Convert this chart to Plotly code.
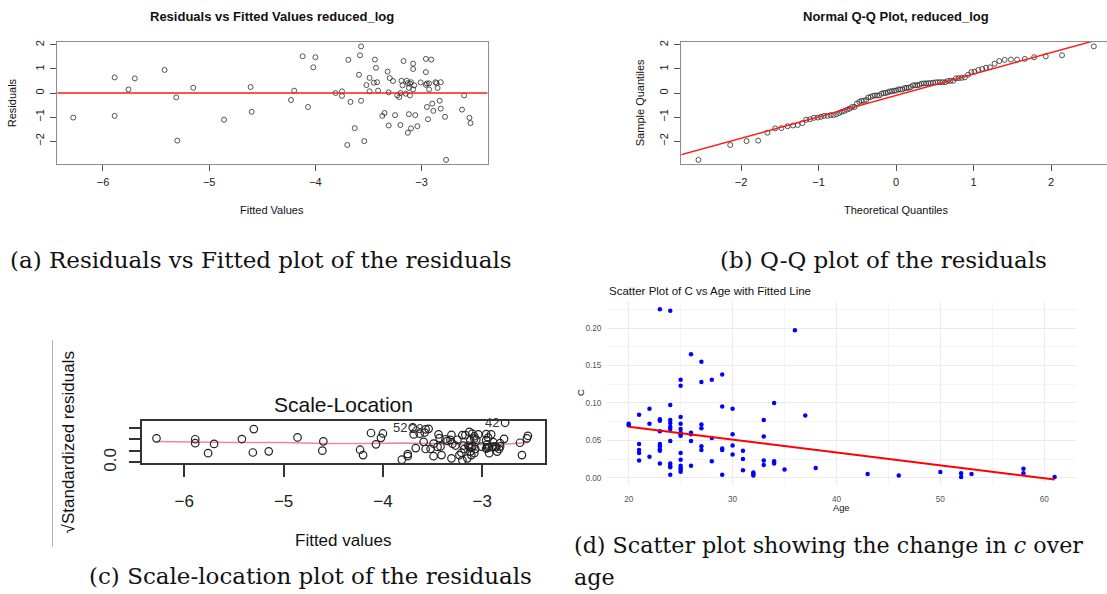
import plotly.graph_objects as go

W, H = 1107, 594
YS = 1.014  # vertical correction so placed items land where the reference shows them

# ---------------- data ----------------
# Panel (a)/(c): fitted values and residuals of reduced_log
fitted = [-6.28, -5.89, -5.89, -5.76, -5.70, -5.42, -5.31, -5.30, -5.15, -4.86,
          -4.61, -4.60, -4.23, -4.20, -4.12, -4.07, -4.02, -4.00, -3.81, -3.75,
          -3.75, -3.70, -3.69, -3.67, -3.63, -3.59, -3.58, -3.57, -3.57, -3.54,
          -3.52, -3.49, -3.49, -3.45, -3.44, -3.43, -3.42, -3.41, -3.37, -3.35,
          -3.32, -3.31, -3.31, -3.30, -3.27, -3.25, -3.23, -3.21, -3.20, -3.20,
          -3.19, -3.18, -3.17, -3.15, -3.14, -3.13, -3.13, -3.12, -3.12, -3.11,
          -3.11, -3.10, -3.10, -3.08, -3.08, -3.08, -3.07, -3.06, -3.04, -3.01,
          -2.96, -2.96, -2.96, -2.95, -2.95, -2.94, -2.93, -2.93, -2.91, -2.90,
          -2.89, -2.87, -2.86, -2.85, -2.83, -2.82, -2.82, -2.78, -2.77, -2.62,
          -2.60, -2.55, -2.54]
residuals = [-1.02, 0.65, -0.95, 0.15, 0.61, 0.96, -0.18, -1.98, 0.22, -1.11,
             0.25, -0.78, -0.29, 0.10, 1.53, -0.58, 1.07, 1.49, 0.00, 0.07,
             -0.12, -2.16, 1.38, -0.37, -1.46, 0.76, 1.57, 1.94, -0.32, -2.00,
             0.33, 0.63, 0.07, 0.43, 1.39, 1.05, 0.45, 0.10, -0.95, -0.83,
             0.89, 0.03, -1.35, 0.62, 0.50, -0.92, -0.10, -0.17, 0.00, -1.33,
             0.51, 0.32, 1.33, -0.03, 0.51, 0.41, -1.65, 0.21, -0.88, -0.10,
             0.39, -1.47, 0.45, 1.22, 0.15, 1.00, 0.32, -0.92, -1.38, 0.44,
             1.42, 0.34, 0.87, 0.40, -0.58, -1.09, 0.15, 0.40, 1.39, -0.44,
             -0.74, 0.45, 0.41, 0.21, -0.32, -0.65, 0.45, -0.99, -2.78, -0.69,
             -0.10, -1.03, -1.25]
# Panel (c): sqrt(|standardized residuals|)
sqrt_std_resid = [1.04, 0.83, 1.00, 0.40, 0.80, 1.01, 0.43, 1.44, 0.48, 1.08,
                  0.51, 0.91, 0.55, 0.32, 1.27, 0.78, 1.06, 1.25, 0.12, 0.27,
                  0.36, 1.51, 1.21, 0.62, 1.24, 0.89, 1.29, 1.43, 0.58, 1.45,
                  0.59, 0.81, 0.27, 0.67, 1.21, 1.05, 0.69, 0.32, 1.00, 0.93,
                  0.97, 0.18, 1.19, 0.81, 0.73, 0.98, 0.32, 0.42, 0.10, 1.18,
                  0.73, 0.58, 1.18, 0.18, 0.73, 0.66, 1.32, 0.47, 0.96, 0.32,
                  0.64, 1.24, 0.69, 1.13, 0.40, 1.03, 0.58, 0.98, 1.21, 0.68,
                  1.22, 0.60, 0.96, 0.65, 0.78, 1.07, 0.40, 0.65, 1.21, 0.68,
                  0.88, 0.69, 0.66, 0.47, 0.58, 0.83, 0.69, 1.02, 1.71, 0.85,
                  0.32, 1.04, 1.15]
smooth_x = [-6.28, -5.9, -5.5, -5.0, -4.6, -4.2, -3.8, -3.5, -3.2, -3.0, -2.8, -2.54]
smooth_y = [0.90, 0.87, 0.86, 0.86, 0.82, 0.82, 0.84, 0.82, 0.78, 0.76, 0.78, 0.86]
label_x = [-3.70, -3.54, -2.77]
label_y = [1.51, 1.45, 1.71]
label_text = ["52", "28", "42"]

# Panel (b): normal Q-Q
qq_theoretical = [-2.55, -2.14, -1.93, -1.78, -1.66, -1.56, -1.48, -1.40, -1.33, -1.27,
                  -1.21, -1.16, -1.11, -1.06, -1.01, -0.97, -0.93, -0.885, -0.845, -0.807,
                  -0.771, -0.735, -0.700, -0.666, -0.633, -0.600, -0.568, -0.537, -0.506, -0.475,
                  -0.445, -0.416, -0.386, -0.358, -0.329, -0.301, -0.273, -0.245, -0.218, -0.190,
                  -0.163, -0.135, -0.108, -0.081, -0.054, -0.027, 0.0, 0.027, 0.054, 0.081,
                  0.108, 0.135, 0.163, 0.190, 0.218, 0.245, 0.273, 0.301, 0.329, 0.358,
                  0.386, 0.416, 0.445, 0.475, 0.506, 0.537, 0.568, 0.600, 0.633, 0.666,
                  0.700, 0.735, 0.771, 0.807, 0.845, 0.885, 0.93, 0.97, 1.01, 1.06,
                  1.11, 1.16, 1.21, 1.27, 1.33, 1.40, 1.48, 1.56, 1.66, 1.78,
                  1.93, 2.14, 2.55]
qq_sample = [-2.78, -2.16, -2.00, -1.98, -1.65, -1.47, -1.46, -1.38, -1.35, -1.33,
             -1.25, -1.11, -1.09, -1.03, -1.02, -0.99, -0.95, -0.95, -0.92, -0.92,
             -0.88, -0.83, -0.78, -0.74, -0.69, -0.65, -0.58, -0.58, -0.44, -0.37,
             -0.32, -0.32, -0.29, -0.18, -0.17, -0.12, -0.10, -0.10, -0.10, -0.03,
             0.00, 0.00, 0.03, 0.07, 0.07, 0.10, 0.10, 0.15, 0.15, 0.15,
             0.21, 0.21, 0.22, 0.25, 0.32, 0.32, 0.33, 0.34, 0.39, 0.40,
             0.40, 0.41, 0.41, 0.43, 0.44, 0.45, 0.45, 0.45, 0.45, 0.50,
             0.51, 0.51, 0.61, 0.62, 0.63, 0.65, 0.76, 0.87, 0.89, 0.96,
             1.00, 1.05, 1.07, 1.22, 1.33, 1.38, 1.39, 1.39, 1.42, 1.49,
             1.53, 1.57, 1.94]
qq_line_x = [-3.0, 3.0]
qq_line_y = [-2.77, 2.57]

# Panel (d): c vs age
age = [20, 20,
       21, 21, 21, 21, 21,
       22, 22, 22,
       23, 23, 23, 23, 23, 23, 23, 23, 23,
       24, 24, 24, 24, 24, 24, 24, 24, 24, 24, 24,
       25, 25, 25, 25, 25, 25, 25, 25, 25, 25, 25, 25, 25, 25,
       26, 26, 26, 26, 26,
       27, 27, 27, 27, 27, 27,
       28, 28, 28,
       29, 29, 29, 29, 29,
       30, 30, 30, 30,
       31, 31, 31,
       32, 32, 32,
       33, 33, 33, 33,
       34, 34, 34,
       35, 36, 37, 38, 43, 46, 50,
       52, 52, 53, 58, 58, 61]
c_val = [0.072, 0.070,
         0.084, 0.045, 0.037, 0.033, 0.023,
         0.092, 0.072, 0.028,
         0.225, 0.078, 0.076, 0.062, 0.045, 0.042, 0.038, 0.036, 0.019,
         0.223, 0.097, 0.077, 0.073, 0.068, 0.065, 0.049, 0.019, 0.016, 0.014, 0.004,
         0.131, 0.123, 0.081, 0.072, 0.065, 0.060, 0.058, 0.056, 0.033, 0.024, 0.016, 0.013, 0.011, 0.008,
         0.165, 0.060, 0.058, 0.049, 0.016,
         0.155, 0.128, 0.071, 0.066, 0.042, 0.037,
         0.131, 0.053, 0.022,
         0.138, 0.095, 0.039, 0.037, 0.004,
         0.092, 0.058, 0.043, 0.031,
         0.036, 0.025, 0.010,
         0.007, 0.005, 0.003,
         0.077, 0.055, 0.023, 0.017,
         0.100, 0.022, 0.019,
         0.011, 0.197, 0.083, 0.013, 0.005, 0.003, 0.0075,
         0.006, 0.001, 0.005, 0.012, 0.006, 0.001]
fit_age = [20, 61]
fit_c = [0.068, -0.0025]

# tick labels
ticks_a_x = [-6, -5, -4, -3]
ticks_a_y = [-2, -1, 0, 1, 2]
ticks_b_x = [-2, -1, 0, 1, 2]
ticks_c_y = [0.0, 0.5, 1.0, 1.5]
ticks_c_y_text = ["0.0", "", "", ""]
ticks_d_x = [20, 30, 40, 50, 60]
ticks_d_y = [0.0, 0.05, 0.10, 0.15, 0.20]
ticks_d_y_text = ["0.00", "0.05", "0.10", "0.15", "0.20"]

# ---------------- layout helpers ----------------
def dx(x0, x1):
    return [x0 / W, x1 / W]

def dy(top, bot):
    return [max(0.0, 1 - bot * YS / H), 1 - top * YS / H]

def px(x):
    return x / W

def py(y):
    return 1 - y * YS / H

SANS = "Liberation Sans, Arial, sans-serif"
SERIF = "DejaVu Serif, serif"

fig = go.Figure()

# (a) residuals vs fitted
fig.add_trace(go.Scatter(x=fitted, y=residuals, mode="markers", xaxis="x", yaxis="y",
                         marker=dict(symbol="circle-open", size=5, color="#2a2a2a",
                                     line=dict(width=0.8)), hoverinfo="skip"))
# (b) qq
fig.add_trace(go.Scatter(x=qq_theoretical, y=qq_sample, mode="markers", xaxis="x2", yaxis="y2",
                         marker=dict(symbol="circle-open", size=5, color="#2a2a2a",
                                     line=dict(width=0.8)), hoverinfo="skip"))
fig.add_trace(go.Scatter(x=qq_line_x, y=qq_line_y, mode="lines", xaxis="x2", yaxis="y2",
                         line=dict(color="#ff1a1a", width=1.5), hoverinfo="skip"))
# (c) scale-location
fig.add_trace(go.Scatter(x=smooth_x, y=smooth_y, mode="lines", xaxis="x3", yaxis="y3",
                         line=dict(color="#ec8a98", width=1.5), hoverinfo="skip"))
fig.add_trace(go.Scatter(x=fitted, y=sqrt_std_resid, mode="markers", xaxis="x3", yaxis="y3",
                         marker=dict(symbol="circle-open", size=7.5, color="#222222",
                                     line=dict(width=1.2)), hoverinfo="skip"))
# (d) c vs age
fig.add_trace(go.Scatter(x=age, y=c_val, mode="markers", xaxis="x4", yaxis="y4",
                         marker=dict(size=4.5, color="#0000ff"), hoverinfo="skip"))
fig.add_trace(go.Scatter(x=fit_age, y=fit_c, mode="lines", xaxis="x4", yaxis="y4",
                         line=dict(color="#ff0000", width=2), hoverinfo="skip"))

r_axis = dict(showline=True, linecolor="#8c8c8c", linewidth=1.3, mirror=True,
              ticks="outside", ticklen=6, tickwidth=1, tickcolor="#555555",
              showgrid=False, zeroline=False,
              tickfont=dict(family=SANS, size=11, color="#222222"))

fig.update_layout(
    width=W, height=H, margin=dict(l=0, r=0, t=0, b=0),
    paper_bgcolor="white", plot_bgcolor="white", showlegend=False,
    xaxis=dict(r_axis, domain=dx(57.3, 487.5), range=[-6.43, -2.38],
               tickvals=ticks_a_x, ticklabelstandoff=2, anchor="y"),
    yaxis=dict(r_axis, domain=dy(40, 162.5), range=[-2.94, 2.13],
               tickvals=ticks_a_y, tickangle=-90, ticklabelstandoff=2, anchor="x"),
    xaxis2=dict(r_axis, domain=dx(681.4, 1107), range=[-2.77, 2.72],
                tickvals=ticks_b_x, ticklabelstandoff=2, anchor="y2"),
    yaxis2=dict(r_axis, domain=dy(40, 162.5), range=[-2.94, 2.13], mirror=False,
                tickvals=ticks_a_y, tickangle=-90, ticklabelstandoff=2, anchor="x2"),
    xaxis3=dict(showline=True, linecolor="#333333", linewidth=1.5, mirror=True,
                ticks="outside", ticklen=12, tickwidth=1.5, tickcolor="#333333",
                showgrid=False, zeroline=False, range=[-6.423, -2.368],
                domain=dx(142.3, 545), tickvals=ticks_a_x, ticklabelstandoff=10,
                tickfont=dict(family=SANS, size=17, color="#222222"), anchor="y3"),
    yaxis3=dict(showline=True, linecolor="#333333", linewidth=1.5, mirror=True,
                ticks="outside", ticklen=12, tickwidth=1.5, tickcolor="#333333",
                showgrid=False, zeroline=False, range=[-0.026, 1.80],
                domain=dy(420.7, 463.3), tickvals=ticks_c_y, ticktext=ticks_c_y_text,
                tickangle=-90, ticklabelstandoff=6,
                tickfont=dict(family=SANS, size=17, color="#222222"), anchor="x3"),
    xaxis4=dict(domain=dx(607.4, 1075.9), range=[17.95, 63.05], tickvals=ticks_d_x,
                showline=False, zeroline=False, ticks="", showgrid=True,
                gridcolor="#ebebeb", gridwidth=1,
                minor=dict(showgrid=True, gridcolor="#f4f4f4", gridwidth=1, dtick=5, tick0=15),
                tickfont=dict(family=SANS, size=8.2, color="#555555"),
                ticklabelstandoff=7, anchor="y4"),
    yaxis4=dict(domain=dy(300.5, 485.7), range=[-0.0102, 0.236], tickvals=ticks_d_y,
                ticktext=ticks_d_y_text,
                showline=False, zeroline=False, ticks="", showgrid=True,
                gridcolor="#ebebeb", gridwidth=1,
                minor=dict(showgrid=True, gridcolor="#f4f4f4", gridwidth=1, dtick=0.05, tick0=0.025),
                tickfont=dict(family=SANS, size=8.2, color="#555555"),
                ticklabelstandoff=5, anchor="x4"),
)

# red zero line in (a)
fig.add_shape(type="line", xref="x domain", yref="y", x0=0, x1=1, y0=0, y1=0,
              line=dict(color="#ff1a1a", width=1.5))
# radical overline of the (c) y title
fig.add_shape(type="line", xref="paper", yref="paper", x0=px(52.5), x1=px(52.5),
              y0=py(340), y1=py(547), line=dict(color="#b0b0b0", width=1))

ann = []

def text(x, y, s, size, family=SANS, bold=False, angle=0, xanchor="center",
         color="#111111"):
    ann.append(dict(x=px(x), y=py(y), xref="paper", yref="paper", text=s,
                    showarrow=False, textangle=angle, xanchor=xanchor, yanchor="middle",
                    font=dict(family=family, size=size, color=color,
                              weight="bold" if bold else "normal")))

# panel (a)
text(272.4, 15, "Residuals vs Fitted Values reduced_log", 13, bold=True)
text(272.4, 209, "Fitted Values", 11)
text(12, 101.7, "Residuals", 11, angle=-90)
# panel (b)
text(896, 15, "Normal Q-Q Plot, reduced_log", 13, bold=True)
text(896, 209, "Theoretical Quantiles", 11)
text(640, 101.7, "Sample Quantiles", 11, angle=-90)
# panel (c)
text(343.6, 404, "Scale-Location", 21)
text(343, 541, "Fitted values", 17)
text(68, 442.5, "√Standardized residuals", 17, angle=-90)
# panel (d)
text(607, 290, "Scatter Plot of C vs Age with Fitted Line", 11.5, xanchor="left")
text(841.6, 508.5, "Age", 9.3)
text(580, 393, "C", 9.5, angle=-90)
# captions
text(8, 259, "(a) Residuals vs Fitted plot of the residuals", 23, family=SERIF, xanchor="left")
text(718, 259, "(b) Q-Q plot of the residuals", 23, family=SERIF, xanchor="left")
text(87, 577, "(c) Scale-location plot of the residuals", 23, family=SERIF, xanchor="left")
text(572, 546, "(d) Scatter plot showing the change in <i>c</i> over", 22.2, family=SERIF,
     xanchor="left")
text(572, 578, "age", 22.2, family=SERIF, xanchor="left")

# point labels in (c)
for lx, ly, lt in zip(label_x, label_y, label_text):
    ann.append(dict(x=lx, y=ly, xref="x3", yref="y3", text=lt, showarrow=False,
                    xanchor="right", yanchor="middle", xshift=-4,
                    font=dict(family=SANS, size=13, color="#333333")))

fig.update_layout(annotations=ann)
fig.write_html("out.html", config={"displayModeBar": False},
               post_script="document.body.style.margin='0px';")
